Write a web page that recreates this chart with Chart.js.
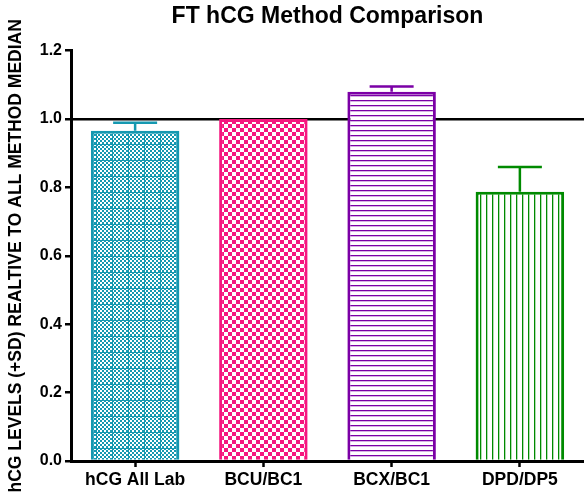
<!DOCTYPE html>
<html>
<head>
<meta charset="utf-8">
<title>FT hCG Method Comparison</title>
<script src="https://cdn.jsdelivr.net/npm/chart.js@4/dist/chart.umd.min.js"></script>
<style>
  html, body { margin: 0; padding: 0; background: #fff; }
  #chart { display: block; }
</style>
</head>
<body>
<canvas id="chart" width="584" height="500"></canvas>
<script>
/* =========================
   DATA
========================= */

const methods = ["hCG All Lab", "BCU/BC1", "BCX/BC1", "DPD/DP5"];
const medianRatio = [0.966, 1.0, 1.080, 0.787];
const ratioSD = [0.023, 0.0, 0.015, 0.073];
const yTicks = [0.0, 0.2, 0.4, 0.6, 0.8, 1.0, 1.2];

const barColors = ["#1598b0", "#f5177f", "#7b00a6", "#008a00"];

/* =========================
   PATTERNS
========================= */

function makeTile(w, h, draw) {
  const c = document.createElement("canvas");
  c.width = w;
  c.height = h;
  const g = c.getContext("2d");
  g.fillStyle = "#fff";
  g.fillRect(0, 0, w, h);
  draw(g);
  return document.getElementById("chart").getContext("2d").createPattern(c, "repeat");
}

// small checker, with a thin grid line every 16px
const fineChecker = color => makeTile(16, 16, g => {
  g.fillStyle = color;
  for (let y = 0; y < 16; y += 2)
    for (let x = 0; x < 16; x += 2)
      if (((x + y) / 2) % 2 === 0) g.fillRect(x, y, 2, 2);
  g.fillRect(0, 0, 1, 16);
  g.fillRect(0, 0, 16, 1);
});

// bigger checker
const checker = color => makeTile(8, 8, g => {
  g.fillStyle = color;
  g.fillRect(0, 0, 4, 4);
  g.fillRect(4, 4, 4, 4);
});

// horizontal stripes
const hLines = color => makeTile(4, 5, g => {
  g.fillStyle = color;
  g.fillRect(0, 0, 4, 1.3);
});

// vertical stripes
const vLines = color => makeTile(6, 4, g => {
  g.fillStyle = color;
  g.fillRect(0, 0, 1.3, 4);
});

const barFills = [
  fineChecker(barColors[0]),
  checker(barColors[1]),
  hLines(barColors[2]),
  vLines(barColors[3])
];

/* =========================
   ERROR BARS (+SD)
========================= */

const errorBars = {
  id: "errorBars",
  afterDatasetsDraw(chart) {
    const ctx = chart.ctx;
    const yScale = chart.scales.y;
    const meta = chart.getDatasetMeta(0);
    const capHalf = 22;

    ctx.save();
    ctx.lineWidth = 2.5;
    meta.data.forEach((bar, i) => {
      if (!ratioSD[i]) return;
      const yTop = yScale.getPixelForValue(medianRatio[i] + ratioSD[i]);
      const yBar = yScale.getPixelForValue(medianRatio[i]);
      ctx.strokeStyle = barColors[i];
      ctx.beginPath();
      ctx.moveTo(bar.x, yBar);
      ctx.lineTo(bar.x, yTop);
      ctx.moveTo(bar.x - capHalf, yTop);
      ctx.lineTo(bar.x + capHalf, yTop);
      ctx.stroke();
    });
    ctx.restore();
  }
};

/* =========================
   CHART
========================= */

Chart.defaults.font.family = "Arial, 'Liberation Sans', sans-serif";
Chart.defaults.color = "#000";

new Chart(document.getElementById("chart"), {
  type: "bar",
  data: {
    labels: methods,
    datasets: [
      {
        data: medianRatio,
        backgroundColor: barFills,
        borderColor: barColors,
        borderWidth: 3,
        barPercentage: 0.69,
        categoryPercentage: 1
      }
    ]
  },
  options: {
    responsive: false,
    animation: false,
    layout: { padding: 0 },
    plugins: {
      legend: { display: false },
      tooltip: { enabled: false },
      title: {
        display: true,
        text: "FT hCG Method Comparison",
        fullSize: false,
        font: { size: 23, weight: "bold" },
        color: "#000",
        padding: { top: 3, bottom: 20 }
      }
    },
    scales: {
      x: {
        afterFit: scale => { scale.height = 39; },
        border: { color: "#000", width: 3 },
        grid: {
          offset: false,
          color: "rgba(0,0,0,0)",
          tickColor: "#000",
          tickLength: 6,
          tickWidth: 2.5
        },
        ticks: {
          font: { size: 17.5, weight: "bold" },
          color: "#000",
          padding: 3,
          maxRotation: 0
        }
      },
      y: {
        min: 0,
        max: 1.2,
        afterFit: scale => { scale.width = 71; },
        afterBuildTicks: scale => {
          scale.ticks = yTicks.map(v => ({ value: v }));
        },
        border: { color: "#000", width: 3 },
        grid: {
          color: c => (c.tick && Math.abs(c.tick.value - 1) < 1e-6 ? "#000" : "rgba(0,0,0,0)"),
          lineWidth: 2.5,
          tickColor: "#000",
          tickLength: 6,
          tickWidth: 2.5
        },
        ticks: {
          font: { size: 16, weight: "bold" },
          color: "#000",
          padding: 3,
          callback: v => Number(v).toFixed(1)
        },
        title: {
          display: true,
          text: "hCG LEVELS (+SD) REALTIVE TO ALL METHOD MEDIAN",
          font: { size: 17.5, weight: "bold" },
          color: "#000",
          padding: { top: 6, bottom: 0 }
        }
      }
    }
  },
  plugins: [errorBars]
});
</script>
</body>
</html>
